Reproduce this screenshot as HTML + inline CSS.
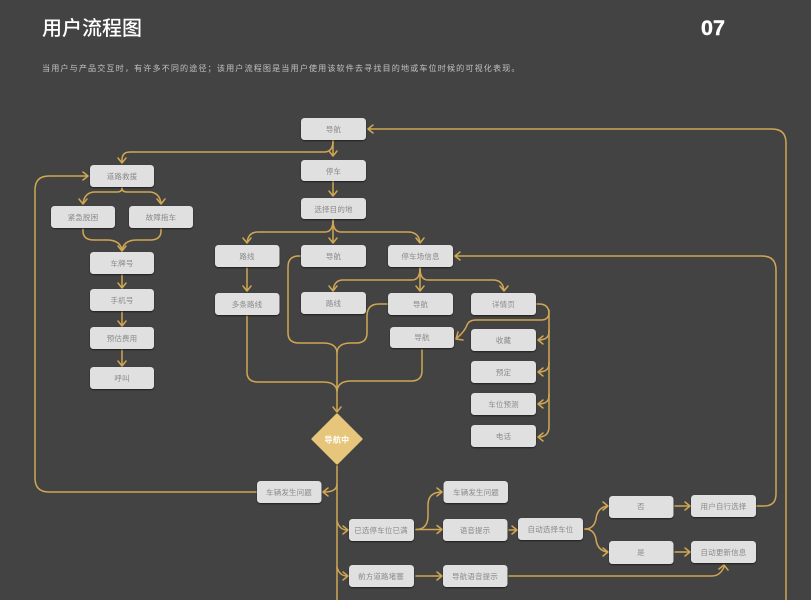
<!DOCTYPE html>
<html><head><meta charset="utf-8">
<style>
html,body{margin:0;padding:0;background:#434343;width:811px;height:600px;overflow:hidden}
svg{display:block}
text{font-family:"Liberation Sans","Noto Sans CJK SC",sans-serif}
.n rect{fill:#e0e0e0;filter:url(#s)}
.n text{fill:#8a8a8a;font-size:7.5px;letter-spacing:.15px;text-anchor:middle}
.l{fill:none;stroke:#d0a753;stroke-width:1.5;stroke-linecap:round;stroke-linejoin:round}
</style></head><body>
<svg width="811" height="600" viewBox="0 0 811 600" xmlns="http://www.w3.org/2000/svg">
<defs><filter id="s" x="-10%" y="-20%" width="120%" height="150%"><feDropShadow dx="0" dy="1" stdDeviation="0.8" flood-color="#000" flood-opacity=".55"/></filter></defs>
<rect width="811" height="600" fill="#434343"/>
<text x="42" y="35" fill="#fff" font-size="20" font-weight="500">用户流程图</text>
<text x="701" y="35" fill="#fff" stroke="#fff" stroke-width=".4" font-size="21.5" font-weight="700">07</text>
<text x="42" y="71" fill="#c0c0c0" font-size="8.1" letter-spacing="1.11">当用户与产品交互时，有许多不同的途径；该用户流程图是当用户使用该软件去寻找目的地或车位时候的可视化表现。</text>

<g class="l">
<!-- top -->
<path d="M333 140V155M329 151l4 5 4-5"/>
<path d="M333 181V195M329 191l4 5 4-5"/>
<path d="M333 141q0 11-9 11H130q-8 0-8 8v3M118 158l4 5 4-5"/>
<!-- right outer return -->
<path d="M786 600V143q0-14-14-14H368M373 125l-5 4 5 4"/>
<!-- rescue -->
<path d="M122 188q0 4-5 4H95q-10 0-12 11M79 199l4 5 4-5"/>
<path d="M122 188q0 4 5 4h22q10 0 12 11M157 199l4 5 4-5"/>
<path d="M83 229v2q0 9 11 9h13q13 0 15 10M161 229v2q0 9-11 9h-13q-13 0-15 10M118 246l4 5 4-5"/>
<path d="M122 275V287M118 283l4 5 4-5"/>
<path d="M122 312V325M118 321l4 5 4-5"/>
<path d="M122 350V365M118 361l4 5 4-5"/>
<path d="M256 492H49q-14 0-14-14V190q0-14 14-14H87M83 172l5 4-5 4"/>
<!-- destination -->
<path d="M333 220q0 12-8 12H258q-10 0-11 11M243 238l4 5 4-5"/>
<path d="M333 220V243M329 238l4 5 4-5"/>
<path d="M333 220q0 12 8 12h67q11 0 12 11M416 238l4 5 4-5"/>
<path d="M247 268V291M243 286l4 5 4-5"/>
<!-- parking -->
<path d="M420 268q0 12-8 12H343q-9 0-10 11M329 286l4 5 4-5"/>
<path d="M420 268V291M416 286l4 5 4-5"/>
<path d="M420 268q0 12 8 12h65q10 0 11 11M500 286l4 5 4-5"/>
<path d="M300 256h-1q-11 0-11 11V333q0 10 11 10H323q13 0 14 9"/>
<path d="M387 304h-8q-12 0-12 12V333q0 10-11 10H351q-13 0-14 9"/>
<path d="M337 352V412M333 407l4 5 4-5"/>
<path d="M247 316V372q0 10 11 10H323q13 0 14 9"/>
<path d="M422 350V371q0 10-11 10H351q-13 0-14 10"/>
<!-- details -->
<path d="M537 304h2q10 0 10 10V427q0 10-11 10M543 433l-5 4 5 4"/>
<path d="M549 310v2q0 8-8 8H476q-7 0-9 5-2 6-10 13M458 332l-2 7 7 1"/>
<path d="M549 330v2q0 8-11 8M543 336l-5 4 5 4"/>
<path d="M549 362v2q0 8-11 8M543 368l-5 4 5 4"/>
<path d="M549 394v2q0 8-11 8M543 400l-5 4 5 4"/>
<!-- inner return -->
<path d="M757 506h7q12 0 12-12V270q0-14-14-14H456M460 252l-5 4 5 4"/>
<!-- nav down -->
<path d="M337 466V600"/>
<path d="M337 484q0 8-13 8M328 488l-5 4 5 4"/>
<path d="M337 521q2 8 9 9M343 526l5 4-5 4"/>
<path d="M337 567q2 8 9 9M343 572l5 4-5 4"/>
<path d="M416 529.500q12 0 12-14V505q0-13 14-13M437 488l5 4-5 4"/>
<path d="M416 529.500H441M437 525.500l5 4-5 4"/>
<path d="M416 576H441M437 572l5 4-5 4"/>
<path d="M509 530H516M512 526l5 4-5 4"/>
<path d="M509 576H712q8 0 12-9M719 569l5-4 4 5"/>
<path d="M585 529q9 0 11-10 1-11 11-13M603 502l5 4-5 4"/>
<path d="M585 529q9 0 11 10 1 11 11 13M603 548l5 4-5 4"/>
<path d="M675 506H689M685 502l5 4-5 4"/>
<path d="M675 552H689M685 548l5 4-5 4"/>
</g>

<g class="n">
<rect x="301" y="118" width="65" height="22" rx="3.500"/><text x="333.500" y="132">导航</text>
<rect x="301" y="160" width="65" height="21" rx="3.500"/><text x="333.500" y="174">停车</text>
<rect x="301" y="198" width="65" height="21" rx="3.500"/><text x="333.500" y="212">选择目的地</text>
<rect x="90" y="165" width="64" height="22" rx="3.500"/><text x="122" y="179">道路救援</text>
<rect x="51" y="206" width="64" height="22" rx="3.500"/><text x="83" y="220">紧急脱困</text>
<rect x="129" y="206" width="64" height="22" rx="3.500"/><text x="161" y="220">故障拖车</text>
<rect x="90" y="252" width="64" height="22" rx="3.500"/><text x="122" y="266">车牌号</text>
<rect x="90" y="289" width="64" height="22" rx="3.500"/><text x="122" y="303">手机号</text>
<rect x="90" y="327" width="64" height="22" rx="3.500"/><text x="122" y="341">预估费用</text>
<rect x="90" y="367" width="64" height="22" rx="3.500"/><text x="122" y="381">呼叫</text>
<rect x="215" y="245" width="64.500" height="22" rx="3.500"/><text x="247" y="259">路线</text>
<rect x="215" y="293" width="64.500" height="22" rx="3.500"/><text x="247" y="307">多条路线</text>
<rect x="301" y="245" width="65" height="22" rx="3.500"/><text x="333.500" y="259">导航</text>
<rect x="388" y="245" width="65" height="22" rx="3.500"/><text x="420.500" y="259">停车场信息</text>
<rect x="301" y="292" width="65" height="22" rx="3.500"/><text x="333.500" y="306">路线</text>
<rect x="388" y="293" width="65" height="22" rx="3.500"/><text x="420.500" y="307">导航</text>
<rect x="471" y="293" width="65" height="22" rx="3.500"/><text x="503.500" y="307">详情页</text>
<rect x="390" y="327" width="64" height="21" rx="3.500"/><text x="422" y="340">导航</text>
<rect x="471" y="329" width="65" height="22" rx="3.500"/><text x="503.500" y="343">收藏</text>
<rect x="471" y="361" width="65" height="22" rx="3.500"/><text x="503.500" y="375">预定</text>
<rect x="471" y="393" width="65" height="22" rx="3.500"/><text x="503.500" y="407">车位预测</text>
<rect x="471" y="425" width="65" height="22" rx="3.500"/><text x="503.500" y="439">电话</text>
<rect x="257" y="481" width="64.500" height="22" rx="3.500"/><text x="289" y="495">车辆发生问题</text>
<rect x="349" y="519" width="65" height="22" rx="3.500"/><text x="381" y="533">已选停车位已满</text>
<rect x="443.500" y="481" width="64.500" height="22" rx="3.500"/><text x="476" y="495">车辆发生问题</text>
<rect x="443" y="519" width="64.500" height="22" rx="3.500"/><text x="475" y="533">语音提示</text>
<rect x="518" y="518" width="65" height="22" rx="3.500"/><text x="550.500" y="532">自动选择车位</text>
<rect x="609" y="496" width="64.500" height="22" rx="3.500"/><text x="641" y="509">否</text>
<rect x="691" y="495" width="65" height="22" rx="3.500"/><text x="723.500" y="509">用户自行选择</text>
<rect x="609" y="541" width="64.500" height="23" rx="3.500"/><text x="641" y="555">是</text>
<rect x="691" y="541" width="65" height="22" rx="3.500"/><text x="723.500" y="555">自动更新信息</text>
<rect x="349" y="565" width="65" height="22" rx="3.500"/><text x="381" y="579">前方道路堵塞</text>
<rect x="443" y="565" width="64.500" height="22" rx="3.500"/><text x="475" y="579">导航语音提示</text>
</g>
<path d="M337 415L361 439L337 463L313 439Z" fill="#e7c67c" stroke="#e7c67c" stroke-width="3" stroke-linejoin="round"/>
<text x="337" y="442.500" fill="#fff" font-size="8" font-weight="700" text-anchor="middle" letter-spacing=".3">导航中</text>
</svg>
</body></html>
